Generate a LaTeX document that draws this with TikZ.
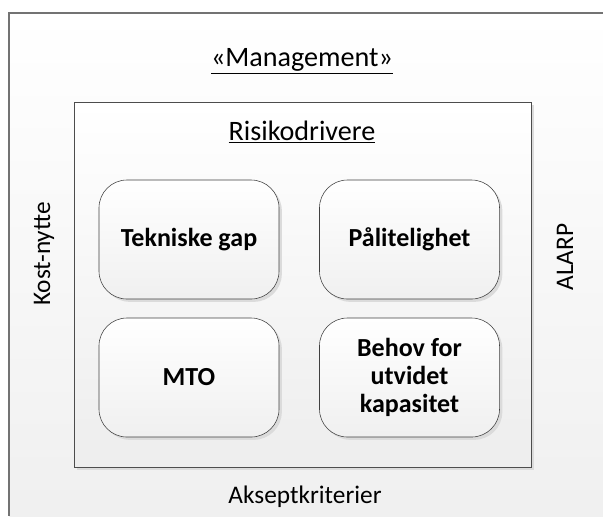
\documentclass[tikz,border=0pt]{standalone}
\usepackage{fontspec}
\setmainfont{Carlito}
\usetikzlibrary{shadows}

\tikzset{
    label text/.style={font=\fontsize{18}{21}\selectfont},
    title text/.style={font=\fontsize{20}{23}\selectfont},
    driver/.style={draw=black!75, rounded corners=0.7cm, align=center,
        minimum width=4.5cm, minimum height=2.975cm, top color=white, bottom color=black!6,
        font=\fontsize{18.5}{20}\selectfont\bfseries,
        drop shadow={shadow xshift=0.07cm, shadow yshift=-0.07cm, fill=black!14, opacity=1}}
}

\begin{document}
\begin{tikzpicture}[x=0.025cm, y=-0.025cm]
    \useasboundingbox (0,0) rectangle (603,516);

    % Outer frame (management level), open to the right and bottom
    \shade[top color=white, bottom color=black!6] (9,13) rectangle (603,516);
    \draw[black!55, line width=0.8pt] (603,13) -- (9,13) -- (9,516);
    \node[title text] (mgmt) at (302,61) {\underline{«Management»}};

    % Side and bottom labels
    \node[label text, rotate=90] (kost) at (44,254) {Kost-nytte};
    \node[label text, rotate=90] (alarp) at (565,257) {ALARP};
    \node[label text] (aksept) at (305,497) {Akseptkriterier};

    % Inner frame with risk drivers
    \fill[black!14] (77,105) rectangle (534,470);
    \shade[top color=white, bottom color=black!7] (74,102) rectangle (531,467);
    \draw[black!70, line width=0.7pt] (74,102) rectangle (531,467);
    \node[title text] (risk) at (302,132) {\underline{Risikodrivere}};

    % Risk driver boxes
    \node[driver] (gap) at (189,239.5) {Tekniske gap};
    \node[driver] (palit) at (409.5,239.5) {Pålitelighet};
    \node[driver] (mto) at (189,377.5) {MTO};
    \node[driver] (behov) at (409.5,377.5) {Behov for\\utvidet\\kapasitet};
\end{tikzpicture}
\end{document}
